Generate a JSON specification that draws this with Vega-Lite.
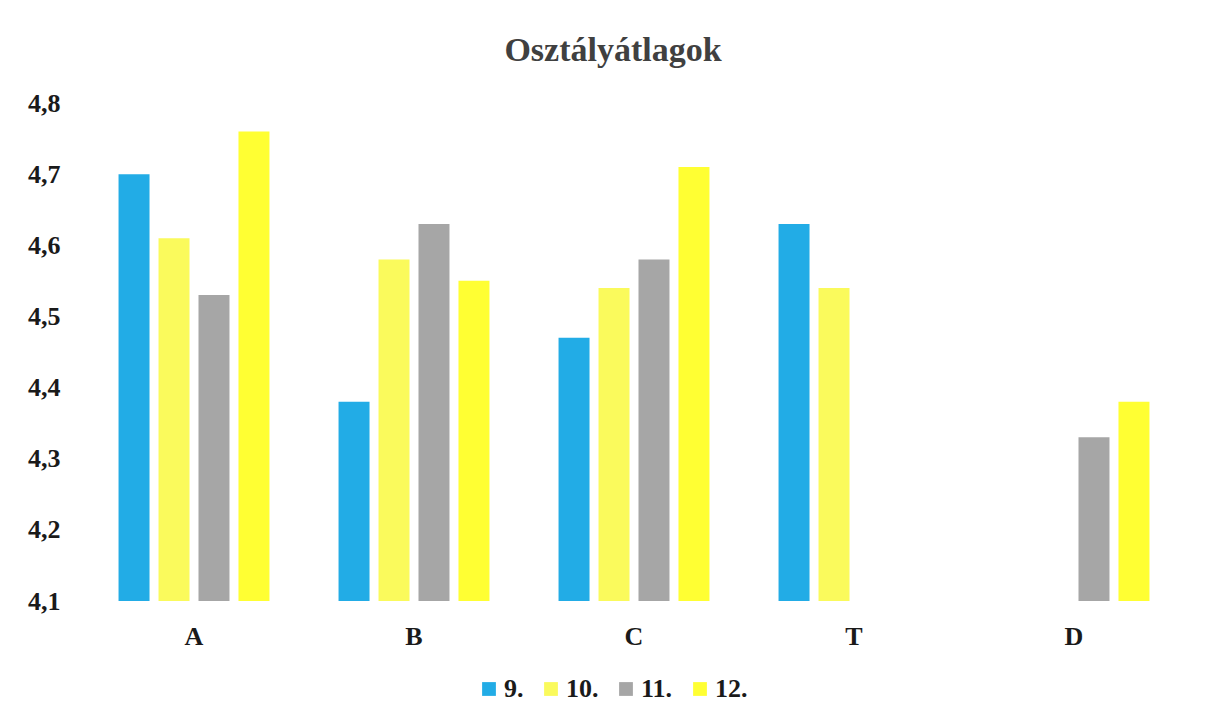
{
  "$schema": "https://vega.github.io/schema/vega-lite/v6.json",
  "autosize": {"type": "none"},
  "width": 1100,
  "height": 498,
  "padding": {"left": 84, "top": 103, "right": 30, "bottom": 122},
  "background": "white",
  "title": {
    "text": "Osztályátlagok",
    "font": "Liberation Serif",
    "fontSize": 34,
    "fontWeight": "bold",
    "color": "#404040",
    "anchor": "middle",
    "dx": -21,
    "offset": 22
  },
  "data": {
    "values": [
      {"osztaly": "A", "evfolyam": "9.", "atlag": 4.70},
      {"osztaly": "A", "evfolyam": "10.", "atlag": 4.61},
      {"osztaly": "A", "evfolyam": "11.", "atlag": 4.53},
      {"osztaly": "A", "evfolyam": "12.", "atlag": 4.76},
      {"osztaly": "B", "evfolyam": "9.", "atlag": 4.38},
      {"osztaly": "B", "evfolyam": "10.", "atlag": 4.58},
      {"osztaly": "B", "evfolyam": "11.", "atlag": 4.63},
      {"osztaly": "B", "evfolyam": "12.", "atlag": 4.55},
      {"osztaly": "C", "evfolyam": "9.", "atlag": 4.47},
      {"osztaly": "C", "evfolyam": "10.", "atlag": 4.54},
      {"osztaly": "C", "evfolyam": "11.", "atlag": 4.58},
      {"osztaly": "C", "evfolyam": "12.", "atlag": 4.71},
      {"osztaly": "T", "evfolyam": "9.", "atlag": 4.63},
      {"osztaly": "T", "evfolyam": "10.", "atlag": 4.54},
      {"osztaly": "D", "evfolyam": "11.", "atlag": 4.33},
      {"osztaly": "D", "evfolyam": "12.", "atlag": 4.38}
    ]
  },
  "mark": {"type": "bar", "clip": true},
  "encoding": {
    "x": {
      "field": "osztaly",
      "type": "nominal",
      "sort": ["A", "B", "C", "T", "D"],
      "scale": {"paddingInner": 0.314, "paddingOuter": 0.157},
      "axis": {
        "title": null,
        "labelAngle": 0,
        "labelFont": "Liberation Serif",
        "labelFontSize": 26,
        "labelFontWeight": "bold",
        "labelColor": "#1a1a1a",
        "labelPadding": 22,
        "domain": false,
        "ticks": false,
        "grid": false
      }
    },
    "xOffset": {
      "field": "evfolyam",
      "type": "nominal",
      "sort": ["9.", "10.", "11.", "12."],
      "scale": {"domain": ["9.", "10.", "11.", "12."], "paddingInner": 0.225, "paddingOuter": 0}
    },
    "y": {
      "field": "atlag",
      "type": "quantitative",
      "scale": {"domain": [4.1, 4.8], "zero": false, "nice": false},
      "axis": {
        "title": null,
        "values": [4.1, 4.2, 4.3, 4.4, 4.5, 4.6, 4.7, 4.8],
        "labelExpr": "replace(format(datum.value, '.1f'), '.', ',')",
        "labelFont": "Liberation Serif",
        "labelFontSize": 26,
        "labelFontWeight": "bold",
        "labelColor": "#1a1a1a",
        "labelPadding": 24,
        "domain": false,
        "ticks": false,
        "grid": false
      }
    },
    "color": {
      "field": "evfolyam",
      "type": "nominal",
      "sort": ["9.", "10.", "11.", "12."],
      "scale": {
        "domain": ["9.", "10.", "11.", "12."],
        "range": ["#22ACE6", "#FAFA5C", "#A6A6A6", "#FFFF33"]
      },
      "legend": {
        "title": null,
        "orient": "none",
        "direction": "horizontal",
        "legendX": 392,
        "legendY": 573,
        "symbolType": "square",
        "symbolSize": 190,
        "symbolStrokeWidth": 0,
        "labelFont": "Liberation Serif",
        "labelFontSize": 26,
        "labelFontWeight": "bold",
        "labelColor": "#1a1a1a",
        "labelOffset": 2,
        "columnPadding": 14
      }
    }
  },
  "config": {"view": {"stroke": null}}
}
